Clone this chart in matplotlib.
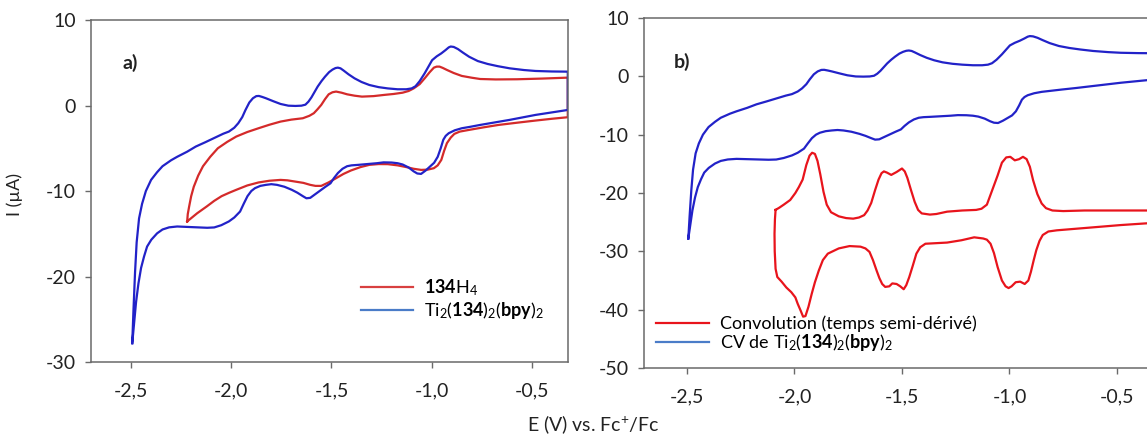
import matplotlib
matplotlib.use("Agg")
import matplotlib.pyplot as plt
from matplotlib.lines import Line2D
from matplotlib.ticker import FuncFormatter

plt.rcParams['font.family'] = ['Lato', 'DejaVu Sans']
plt.rcParams['mathtext.fontset'] = 'custom'
plt.rcParams['mathtext.rm'] = 'Lato'
plt.rcParams['mathtext.bf'] = 'Lato:bold'
plt.rcParams['mathtext.it'] = 'Lato:italic'
plt.rcParams['axes.unicode_minus'] = False

# Ti2(134)2(bpy)2 CV: oxidation sweep (left -> right) then reduction sweep (right -> left)
ti_x = [-2.494, -2.488, -2.480, -2.472, -2.460, -2.445, -2.426, -2.400, -2.370, -2.343,
        -2.300, -2.270, -2.220, -2.177, -2.130, -2.085, -2.040, -2.012, -1.985, -1.965,
        -1.945, -1.929, -1.910, -1.892, -1.875, -1.862, -1.845, -1.827, -1.790, -1.754,
        -1.715, -1.680, -1.650, -1.630, -1.615, -1.600, -1.585, -1.569, -1.550, -1.532,
        -1.512, -1.495, -1.480, -1.468, -1.455, -1.440, -1.415, -1.385, -1.350, -1.311,
        -1.265, -1.219, -1.170, -1.127, -1.100, -1.081, -1.060, -1.035, -1.015, -0.998,
        -0.975, -0.952, -0.930, -0.915, -0.905, -0.890, -0.869, -0.845, -0.813, -0.770,
        -0.721, -0.670, -0.611, -0.540, -0.482, -0.400, -0.321,
        -0.321, -0.400, -0.482, -0.550, -0.611, -0.690, -0.758, -0.810, -0.850, -0.885,
        -0.915, -0.930, -0.942, -0.955, -0.970, -0.988, -1.007, -1.030, -1.053, -1.072,
        -1.090, -1.115, -1.145, -1.170, -1.200, -1.240, -1.274, -1.320, -1.366, -1.400,
        -1.422, -1.445, -1.468, -1.488, -1.505, -1.530, -1.551, -1.580, -1.606, -1.625,
        -1.643, -1.670, -1.698, -1.735, -1.772, -1.800, -1.827, -1.855, -1.882, -1.900,
        -1.919, -1.938, -1.956, -1.985, -2.012, -2.050, -2.085, -2.120, -2.159, -2.220,
        -2.270, -2.310, -2.343, -2.370, -2.399, -2.420, -2.435, -2.450, -2.463, -2.475,
        -2.485, -2.494]
ti_y = [-27.8, -24.0, -19.5, -16.0, -13.2, -11.5, -10.0, -8.7, -7.8, -7.1,
        -6.4, -6.0, -5.4, -4.8, -4.3, -3.8, -3.3, -3.05, -2.6, -2.07,
        -1.35, -0.52, 0.35, 0.85, 1.1, 1.12, 1.0, 0.85, 0.5, 0.18,
        -0.02, -0.05, -0.02, 0.1, 0.45, 0.95, 1.55, 2.21, 2.85, 3.38,
        3.9, 4.2, 4.38, 4.43, 4.35, 4.1, 3.65, 3.18, 2.75, 2.4,
        2.15, 2.0, 1.9, 1.9, 2.0, 2.25, 2.85, 3.77, 4.6, 5.3,
        5.75, 6.1, 6.5, 6.8, 6.9, 6.85, 6.6, 6.2, 5.7, 5.2,
        4.86, 4.6, 4.35, 4.15, 4.04, 3.98, 3.96,
        -0.52, -0.8, -1.1, -1.4, -1.68, -2.0, -2.27, -2.5, -2.66, -2.9,
        -3.24, -3.55, -4.0, -5.0, -6.0, -6.7, -7.1, -7.6, -8.0, -7.95,
        -7.7, -7.25, -6.9, -6.75, -6.67, -6.65, -6.75, -6.85, -6.94, -7.0,
        -7.1, -7.4, -7.9, -8.5, -9.1, -9.5, -9.86, -10.35, -10.8, -10.85,
        -10.6, -10.2, -9.86, -9.5, -9.28, -9.2, -9.28, -9.4, -9.67, -10.0,
        -10.6, -11.5, -12.4, -13.1, -13.56, -14.0, -14.26, -14.3, -14.26, -14.2,
        -14.15, -14.25, -14.5, -14.95, -15.7, -16.5, -17.65, -19.0, -20.8, -23.0,
        -25.5, -27.8]

# 134H4 CV
lig_x = [-2.220, -2.217, -2.210, -2.200, -2.187, -2.165, -2.141, -2.105, -2.067, -2.020,
         -1.975, -1.920, -1.864, -1.810, -1.754, -1.700, -1.643, -1.610, -1.588, -1.570,
         -1.551, -1.532, -1.514, -1.495, -1.477, -1.450, -1.422, -1.385, -1.348, -1.290,
         -1.237, -1.190, -1.145, -1.115, -1.090, -1.060, -1.035, -1.010, -0.989, -0.975,
         -0.961, -0.945, -0.924, -0.890, -0.850, -0.800, -0.758, -0.680, -0.574, -0.450,
         -0.321,
         -0.321, -0.400, -0.482, -0.570, -0.666, -0.740, -0.813, -0.860, -0.887, -0.905,
         -0.924, -0.938, -0.952, -0.970, -0.989, -1.020, -1.053, -1.090, -1.127, -1.170,
         -1.219, -1.265, -1.311, -1.355, -1.403, -1.440, -1.477, -1.515, -1.551, -1.580,
         -1.606, -1.640, -1.680, -1.720, -1.754, -1.810, -1.864, -1.920, -1.975, -2.010,
         -2.048, -2.085, -2.122, -2.170, -2.220]
lig_y = [-13.56, -12.7, -11.8, -10.6, -9.5, -8.2, -7.1, -6.0, -5.0, -4.25,
         -3.63, -3.1, -2.66, -2.25, -1.88, -1.65, -1.49, -1.2, -0.9, -0.45,
         0.07, 0.75, 1.31, 1.55, 1.63, 1.5, 1.31, 1.15, 1.04, 1.1,
         1.24, 1.35, 1.5, 1.7, 2.0, 2.5, 3.18, 3.9, 4.43, 4.55,
         4.55, 4.4, 4.16, 3.8, 3.46, 3.25, 3.1, 3.05, 3.07, 3.15,
         3.26,
         -1.37, -1.55, -1.76, -2.0, -2.27, -2.55, -2.85, -3.05, -3.32, -3.75,
         -4.4, -5.3, -6.36, -7.0, -7.33, -7.5, -7.53, -7.4, -7.2, -7.0,
         -6.86, -6.85, -6.94, -7.2, -7.6, -8.0, -8.5, -9.0, -9.4, -9.4,
         -9.28, -9.05, -8.9, -8.75, -8.7, -8.8, -9.0, -9.35, -9.86, -10.2,
         -10.6, -11.15, -11.8, -12.6, -13.56]

# convolution (semi-derivative time) of the Ti complex CV
conv_x = [-2.088, -2.070, -2.050, -2.020, -1.996, -1.980, -1.962, -1.945, -1.930, -1.918,
          -1.905, -1.893, -1.880, -1.865, -1.850, -1.830, -1.794, -1.760, -1.727, -1.700,
          -1.676, -1.660, -1.643, -1.625, -1.609, -1.595, -1.584, -1.570, -1.550, -1.525,
          -1.500, -1.487, -1.475, -1.458, -1.441, -1.425, -1.408, -1.370, -1.340, -1.290,
          -1.220, -1.155, -1.130, -1.105, -1.080, -1.055, -1.035, -1.015, -0.996, -0.975,
          -0.955, -0.937, -0.920, -0.905, -0.890, -0.870, -0.850, -0.830, -0.800, -0.750,
          -0.651, -0.500, -0.321,
          -0.321, -0.483, -0.650, -0.780, -0.819, -0.845, -0.860, -0.875, -0.887, -0.900,
          -0.912, -0.929, -0.950, -0.971, -0.990, -1.004, -1.018, -1.035, -1.055, -1.072,
          -1.088, -1.105, -1.122, -1.164, -1.223, -1.290, -1.391, -1.415, -1.433, -1.450,
          -1.466, -1.480, -1.492, -1.508, -1.525, -1.545, -1.559, -1.578, -1.592, -1.605,
          -1.618, -1.635, -1.651, -1.670, -1.693, -1.744, -1.794, -1.845, -1.868, -1.887,
          -1.905, -1.920, -1.935, -1.949, -1.960, -1.971, -1.985, -1.996, -2.015, -2.038,
          -2.060, -2.080, -2.088, -2.092, -2.093, -2.091, -2.088]
conv_y = [-22.9, -22.5, -22.0, -21.2, -20.0, -19.0, -17.7, -15.2, -13.6, -13.1,
          -13.3, -14.5, -16.8, -19.8, -22.0, -23.3, -24.0, -24.3, -24.4, -24.2,
          -23.8, -23.0, -21.7, -19.5, -17.7, -16.6, -16.3, -16.5, -16.9, -16.4,
          -15.8, -16.3, -17.4, -19.5, -21.5, -22.9, -23.5, -23.7, -23.6, -23.2,
          -23.0, -22.9, -22.7, -22.0, -19.5, -17.0, -14.8, -13.9, -13.8, -14.4,
          -14.2, -13.8, -14.2, -15.5, -17.8, -20.2, -21.8, -22.6, -23.0, -23.1,
          -23.0, -23.0, -23.0,
          -25.1, -25.5, -26.0, -26.4, -26.6, -27.2, -28.2, -29.8, -31.5, -33.5,
          -35.0, -35.6, -35.2, -35.3, -36.0, -36.3, -36.0, -35.0, -32.7, -30.3,
          -28.7, -28.0, -27.8, -27.6, -28.1, -28.5, -28.7, -29.3, -30.4, -32.5,
          -34.4, -35.8, -36.5, -36.0, -35.6, -35.5, -36.0, -36.1, -35.6, -34.6,
          -33.3, -31.5, -30.1, -29.5, -29.2, -29.1, -29.5, -30.4, -31.5, -33.3,
          -35.3, -37.3, -39.5, -41.1, -41.2, -40.2, -39.0, -37.9, -37.0, -36.2,
          -35.2, -34.4, -33.0, -30.0, -27.0, -24.5, -22.9]

x_ticks = [-2.5, -2.0, -1.5, -1.0, -0.5]
ya_ticks = [10, 0, -10, -20, -30]
yb_ticks = [10, 0, -10, -20, -30, -40, -50]

red_a = '#d42a2a'
red_b = '#e8141c'
blue = '#2222c8'
leg_red = '#d84040'
leg_blue = '#4a7cc8'
spine_c = '#6a6a6a'
txt_c = '#222222'

fig = plt.figure(figsize=(11.47, 4.36), dpi=100)
ax_a = fig.add_axes([0.0793, 0.1697, 0.4159, 0.7844])
ax_b = fig.add_axes([0.5615, 0.156, 0.446, 0.8027])

comma = FuncFormatter(lambda v, p: f"{v:.1f}".replace('.', ','))
intf = FuncFormatter(lambda v, p: f"{v:.0f}")


def style(ax, yticks, ylim):
    ax.set_xlim(-2.70, -0.32)
    ax.set_ylim(*ylim)
    ax.set_xticks(x_ticks)
    ax.set_yticks(yticks)
    ax.xaxis.set_major_formatter(comma)
    ax.yaxis.set_major_formatter(intf)
    for s in ax.spines.values():
        s.set_color(spine_c)
        s.set_linewidth(1.1)
    ax.tick_params(axis='both', length=4, width=1, color=spine_c,
                   labelsize=14, labelcolor=txt_c)
    ax.tick_params(axis='x', pad=11)
    ax.tick_params(axis='y', pad=7)


ax_a.plot(lig_x, lig_y, color=red_a, lw=1.6, solid_joinstyle='round')
ax_a.plot(ti_x, ti_y, color=blue, lw=1.6, solid_joinstyle='round')
style(ax_a, ya_ticks, (-30, 10))
ax_a.text(-2.545, 4.97, 'a)', fontsize=14, fontweight='bold', va='center', color=txt_c)

ax_b.plot(ti_x, ti_y, color=blue, lw=1.6, solid_joinstyle='round')
ax_b.plot(conv_x, conv_y, color=red_b, lw=1.6, solid_joinstyle='round')
style(ax_b, yb_ticks, (-50, 10))
ax_b.text(-2.56, 2.45, 'b)', fontsize=14, fontweight='bold', va='center', color=txt_c)

h_a = [Line2D([], [], color=leg_red, lw=1.6), Line2D([], [], color=leg_blue, lw=1.6)]
ax_a.legend(h_a, [r'$\mathbf{134}\mathrm{H}_{4}$',
                  r'$\mathrm{Ti}_{2}(\mathbf{134})_{2}(\mathbf{bpy})_{2}$'],
            loc='upper left', bbox_to_anchor=(0.551, 0.27), borderaxespad=0,
            frameon=False, fontsize=13, handlelength=2.9, handletextpad=0.6,
            labelspacing=0.15)

h_b = [Line2D([], [], color=red_b, lw=1.6), Line2D([], [], color=leg_blue, lw=1.6)]
ax_b.legend(h_b, ['Convolution (temps semi-dérivé)',
                  r'CV de $\mathrm{Ti}_{2}(\mathbf{134})_{2}(\mathbf{bpy})_{2}$'],
            loc='upper left', bbox_to_anchor=(0.01, 0.17), borderaxespad=0,
            frameon=False, fontsize=13, handlelength=2.9, handletextpad=0.6,
            labelspacing=0.0)

fig.text(0.013, 0.553, 'I (µA)', rotation=90, fontsize=13, va='center', ha='center',
         color=txt_c)
fig.text(0.517, 0.025, r'E (V) vs. Fc$^{+}$/Fc', fontsize=14, va='center', ha='center',
         color=txt_c)

fig.savefig('out.png', dpi=100)
